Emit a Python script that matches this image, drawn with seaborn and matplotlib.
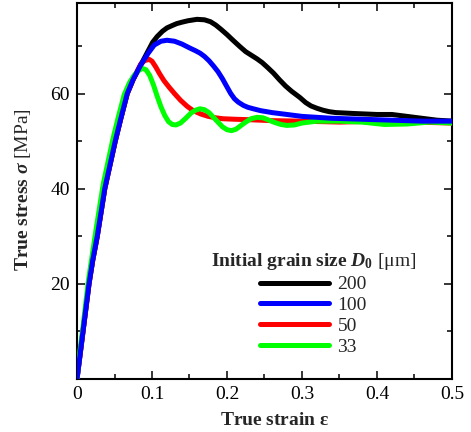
import matplotlib
matplotlib.use("Agg")
import matplotlib.pyplot as plt
from matplotlib.ticker import MultipleLocator, FuncFormatter
import pandas as pd
import seaborn as sns

# grain size 200 um
strain_200 = [0, 0.004, 0.008, 0.012, 0.016, 0.021, 0.027, 0.032, 0.037, 0.044, 0.051, 0.058,
              0.067, 0.075, 0.085, 0.095, 0.101, 0.107, 0.114, 0.12, 0.127, 0.133, 0.14, 0.148,
              0.16, 0.17, 0.178, 0.185, 0.192, 0.2, 0.208, 0.217, 0.225, 0.233, 0.24, 0.247,
              0.254, 0.262, 0.27, 0.278, 0.286, 0.297, 0.305, 0.312, 0.32, 0.328, 0.336, 0.345,
              0.37, 0.4, 0.42, 0.44, 0.46, 0.48, 0.5]
stress_200 = [0, 5, 10, 15, 20, 25, 30, 35, 40, 45, 50, 54.5,
              60, 63, 66, 69, 70.8, 72, 73.1, 73.8, 74.3, 74.7, 75, 75.3,
              75.6, 75.5, 75.1, 74.4, 73.5, 72.4, 71.2, 69.9, 68.8, 68, 67.3, 66.5,
              65.5, 64.3, 62.9, 61.6, 60.5, 59.2, 58.1, 57.4, 56.9, 56.5, 56.2, 56,
              55.8, 55.6, 55.6, 55.2, 54.8, 54.4, 54.2]

# grain size 100 um
strain_100 = [0, 0.004, 0.008, 0.012, 0.016, 0.021, 0.027, 0.032, 0.037, 0.044, 0.051, 0.058,
              0.067, 0.075, 0.085, 0.095, 0.103, 0.112, 0.12, 0.13, 0.14, 0.15, 0.158, 0.164,
              0.17, 0.176, 0.182, 0.188, 0.194, 0.2, 0.205, 0.21, 0.215, 0.222, 0.228, 0.235,
              0.245, 0.26, 0.275, 0.3, 0.34, 0.38, 0.42, 0.46, 0.5]
stress_100 = [0, 5, 10, 15, 20, 25, 30, 35, 40, 45, 50, 54.5,
              60, 63, 66, 68.5, 70.2, 71, 71.2, 71, 70.4, 69.6, 69, 68.5,
              67.8, 66.9, 65.8, 64.6, 63.1, 61.4, 60, 58.9, 58.2, 57.5, 57.1, 56.8,
              56.4, 56, 55.7, 55.2, 54.8, 54.6, 54.4, 54.2, 54.2]

# grain size 50 um
strain_50 = [0, 0.004, 0.008, 0.012, 0.016, 0.021, 0.027, 0.032, 0.037, 0.044, 0.051, 0.058,
             0.067, 0.075, 0.085, 0.09, 0.096, 0.1, 0.105, 0.11, 0.116, 0.123, 0.13, 0.138,
             0.147, 0.155, 0.165, 0.175, 0.185, 0.195, 0.21, 0.23, 0.26, 0.3, 0.35, 0.4,
             0.45, 0.5]
stress_50 = [0, 5, 10, 15, 20, 25, 30, 35, 40, 45, 50, 54.5,
             60, 63, 66.2, 66.9, 67.2, 66.8, 65.6, 64.2, 62.7, 61.3, 60, 58.6,
             57.3, 56.4, 55.7, 55.2, 54.9, 54.7, 54.6, 54.5, 54.3, 54.2, 54, 54.2,
             54, 53.8]

# grain size 33 um
strain_33 = [0, 0.004, 0.008, 0.015, 0.025, 0.035, 0.048, 0.055, 0.063, 0.07, 0.076, 0.082,
             0.087, 0.092, 0.097, 0.102, 0.107, 0.112, 0.117, 0.122, 0.127, 0.132, 0.138,
             0.145, 0.152, 0.158, 0.164, 0.17, 0.176, 0.182, 0.188, 0.194, 0.2, 0.206,
             0.212, 0.218, 0.225, 0.232, 0.24, 0.248, 0.256, 0.264, 0.272, 0.28, 0.29,
             0.3, 0.32, 0.35, 0.38, 0.41, 0.44, 0.47, 0.5]
stress_33 = [0, 6, 11, 20.5, 31, 41, 50.5, 55, 59.8, 62.3, 63.8, 64.8,
             65.3, 65, 63.8, 61.8, 59.4, 57.2, 55.4, 54.1, 53.5, 53.4, 53.8,
             54.8, 55.9, 56.5, 56.8, 56.6, 56, 55, 54, 53, 52.4, 52.2,
             52.5, 53.2, 54, 54.7, 55, 54.9, 54.4, 53.9, 53.5, 53.3, 53.4,
             53.8, 54.2, 54.2, 54, 53.5, 53.6, 54, 53.8]

sizes = ["200", "100", "50", "33"]
colors = ["#000000", "#0000ff", "#ff0000", "#00ff00"]

frames = []
for name, x, y in zip(sizes, [strain_200, strain_100, strain_50, strain_33],
                      [stress_200, stress_100, stress_50, stress_33]):
    frames.append(pd.DataFrame({"strain": x, "stress": y, "D0": name}))
df = pd.concat(frames, ignore_index=True)

sns.set_style("ticks")
plt.rcParams["font.family"] = ["Liberation Serif", "DejaVu Serif"]
plt.rcParams["mathtext.fontset"] = "custom"
plt.rcParams["mathtext.rm"] = "Liberation Serif"
plt.rcParams["mathtext.it"] = "Liberation Serif:italic"
plt.rcParams["mathtext.bf"] = "Liberation Serif:bold"
plt.rcParams["mathtext.bfit"] = "Liberation Serif:bold:italic"

fig = plt.figure(figsize=(4.71, 4.32), dpi=100)
ax = fig.add_axes([0.1635, 0.1227, 0.796, 0.870])

sns.lineplot(data=df, x="strain", y="stress", hue="D0", hue_order=sizes,
             palette=colors, sort=False, estimator=None, linewidth=3.6, ax=ax)

# stacking as in the original: blue on top, then green, red, black
for line, z in zip(ax.lines[:4], [2, 5, 3, 4]):
    line.set_zorder(z)
    line.set_solid_joinstyle("round")

ax.set_xlim(0, 0.5)
ax.set_ylim(0, 79)
ax.xaxis.set_major_locator(MultipleLocator(0.1))
ax.xaxis.set_minor_locator(MultipleLocator(0.05))
ax.yaxis.set_major_locator(MultipleLocator(20))
ax.yaxis.set_minor_locator(MultipleLocator(10))
ax.xaxis.set_major_formatter(FuncFormatter(lambda v, p: "0" if abs(v) < 1e-9 else f"{v:g}"))
ax.yaxis.set_major_formatter(FuncFormatter(lambda v, p: "" if abs(v) < 1e-9 else f"{v:g}"))
ax.tick_params(which="both", direction="in", top=True, right=True, width=1.1,
               labelsize=14, colors="black")
ax.tick_params(which="major", length=6, pad=5)
ax.tick_params(which="minor", length=3.5)
for s in ax.spines.values():
    s.set_linewidth(1.5)
    s.set_color("black")

ax.set_xlabel(r"$\mathbf{True\ strain}\ \boldsymbol{\varepsilon}$", fontsize=14)
ax.set_ylabel(r"$\mathbf{True\ stress}\ \boldsymbol{\sigma}$ [MPa]", fontsize=14)
ax.xaxis.set_label_coords(0.528, -0.088)
ax.yaxis.set_label_coords(-0.117, 0.503)

handles, labels = ax.get_legend_handles_labels()
leg = ax.legend(handles, labels, title=r"$\mathbf{Initial\ grain\ size}\ \boldsymbol{D}_\mathbf{0}$ [μm]",
                loc="lower right", bbox_to_anchor=(0.93, 0.035), frameon=False,
                fontsize=14, title_fontsize=14, handlelength=3.55, handletextpad=0.45,
                labelspacing=0.17, borderpad=0)
for h in leg.get_lines():
    h.set_linewidth(3.6)

fig.savefig("out.png", dpi=100)
